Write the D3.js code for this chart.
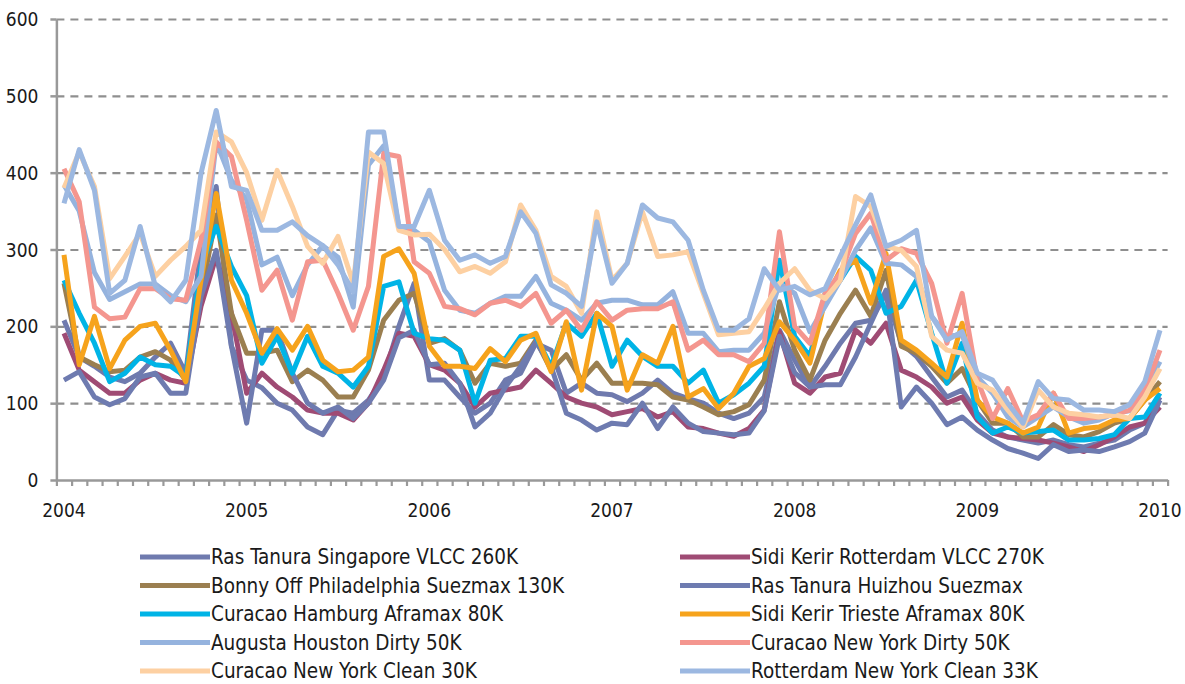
<!DOCTYPE html>
<html>
<head>
<meta charset="utf-8">
<script src="https://cdn.jsdelivr.net/npm/d3@7"></script>
<style>
  html, body { margin: 0; padding: 0; background: #fff; }
  svg { display: block; }
  .Axis text { font-family: "DejaVu Sans Condensed", "DejaVu Sans", sans-serif; font-size: 19px; fill: #1a1a1a; }
  .Legend text { font-family: "DejaVu Sans Condensed", "DejaVu Sans", sans-serif; font-size: 20.5px; fill: #1a1a1a; }
</style>
</head>
<body>
<svg id="chart" width="1185" height="684"></svg>
<script>
// Monthly categories, Jan 2004 .. Jan 2010 (73 points).
const months = d3.timeMonth.range(new Date(2004, 0, 1), new Date(2010, 1, 1));
const yearLabels = ["2004", "2005", "2006", "2007", "2008", "2009", "2010"];
const yTicks = [0, 100, 200, 300, 400, 500, 600];

const rasTanuraSingapore = [
  208, 160, 148, 134, 128, 139, 160, 178, 139, 304, 382, 174,
  130, 120, 100, 91, 69, 59, 91, 87, 104, 134, 200, 256,
  130, 130, 108, 87, 100, 130, 139, 178, 169, 113, 126, 113,
  111, 102, 113, 130, 113, 106, 100, 87, 80, 87, 108, 195,
  156, 121, 148, 178, 204, 208, 243, 178, 161, 134, 108, 117,
  87, 65, 56, 52, 48, 52, 46, 43, 48, 52, 65, 74,
  108];
const sidiKerirRotterdam = [
  191, 143, 128, 113, 113, 130, 139, 130, 126, 226, 291, 217,
  113, 139, 121, 108, 91, 87, 87, 78, 100, 143, 191, 187,
  150, 143, 126, 95, 113, 117, 121, 143, 126, 108, 100, 95,
  85, 89, 93, 82, 89, 69, 67, 61, 57, 67, 91, 193,
  126, 113, 134, 139, 195, 178, 204, 143, 134, 121, 100, 108,
  78, 61, 56, 54, 52, 48, 43, 37, 46, 56, 69, 74,
  95];
const bonnyPhiladelphia = [
  256, 160, 150, 141, 143, 160, 167, 156, 130, 240, 345, 217,
  165, 165, 169, 128, 143, 130, 108, 108, 143, 208, 234, 243,
  178, 184, 169, 126, 152, 148, 152, 182, 143, 163, 130, 152,
  126, 126, 126, 124, 108, 104, 95, 85, 89, 98, 130, 232,
  169, 130, 182, 217, 247, 213, 273, 174, 165, 148, 126, 145,
  104, 74, 74, 56, 56, 72, 59, 56, 63, 74, 80, 104,
  128];
const rasTanuraHuizhou = [
  130, 141, 108, 98, 106, 134, 139, 113, 113, 239, 299, 174,
  74, 195, 195, 139, 100, 87, 95, 80, 100, 130, 185, 195,
  150, 152, 126, 69, 87, 121, 148, 180, 148, 87, 78, 65,
  74, 72, 100, 67, 95, 74, 63, 61, 59, 61, 90, 187,
  140, 121, 124, 124, 160, 204, 247, 95, 121, 100, 72, 82,
  65, 52, 41, 35, 28, 46, 37, 39, 37, 43, 50, 61,
  104];
const curacaoHamburg = [
  260, 217, 178, 128, 139, 160, 150, 148, 134, 278, 330, 278,
  240, 152, 187, 139, 187, 148, 139, 121, 148, 252, 258, 191,
  184, 182, 169, 100, 156, 158, 187, 187, 148, 204, 187, 217,
  148, 182, 161, 148, 148, 126, 143, 100, 111, 126, 148, 286,
  187, 161, 243, 260, 291, 273, 217, 226, 260, 191, 126, 178,
  82, 61, 69, 61, 63, 65, 52, 52, 54, 59, 80, 82,
  113];
const sidiKerirTrieste = [
  293, 150, 213, 145, 182, 200, 204, 169, 128, 260, 373, 260,
  217, 165, 197, 169, 200, 156, 141, 143, 160, 291, 301, 269,
  174, 148, 148, 145, 171, 154, 182, 191, 141, 206, 117, 217,
  200, 117, 163, 152, 200, 108, 119, 93, 113, 148, 158, 206,
  182, 152, 234, 273, 286, 230, 295, 182, 169, 152, 134, 204,
  104, 82, 74, 61, 69, 113, 61, 67, 69, 78, 80, 104,
  119];
const augustaHouston = [
  384, 350, 270, 235, 245, 255, 255, 240, 232, 265, 440, 390,
  365, 280, 290, 240, 280, 305, 290, 225, 410, 435, 330, 325,
  310, 247, 221, 217, 230, 239, 239, 265, 230, 221, 208, 230,
  234, 234, 228, 228, 245, 191, 191, 167, 169, 169, 191, 256,
  243, 193, 226, 260, 299, 328, 282, 280, 265, 213, 187, 189,
  134, 113, 82, 69, 82, 95, 82, 74, 78, 87, 90, 117,
  154];
const curacaoNyDirty = [
  405, 362, 225, 210, 212, 249, 249, 236, 234, 312, 440, 421,
  338, 247, 273, 208, 284, 286, 243, 195, 252, 425, 421, 284,
  269, 226, 223, 215, 230, 234, 226, 243, 204, 221, 195, 232,
  208, 221, 223, 223, 232, 169, 182, 163, 163, 154, 178, 323,
  200, 178, 243, 269, 321, 347, 286, 301, 295, 256, 178, 243,
  130, 80, 119, 76, 85, 113, 80, 80, 82, 85, 91, 117,
  169];
const curacaoNyClean = [
  380, 427, 382, 262, 291, 321, 265, 286, 304, 325, 453, 440,
  400, 338, 403, 356, 304, 282, 317, 256, 427, 412, 325, 319,
  320, 300, 271, 278, 269, 284, 358, 325, 265, 252, 217, 349,
  260, 282, 349, 291, 293, 297, 243, 189, 191, 193, 223, 256,
  275, 247, 236, 260, 369, 356, 304, 299, 278, 187, 169, 165,
  126, 117, 91, 69, 117, 95, 87, 85, 82, 85, 80, 108,
  145];
const rotterdamNyClean = [
  360, 430, 377, 243, 260, 330, 252, 232, 260, 399, 481, 382,
  377, 325, 325, 336, 318, 305, 280, 245, 453, 453, 330, 330,
  377, 312, 286, 293, 282, 291, 349, 321, 254, 243, 226, 336,
  256, 282, 358, 341, 336, 312, 247, 195, 195, 210, 275, 247,
  252, 241, 249, 291, 332, 371, 304, 312, 325, 213, 182, 193,
  139, 130, 100, 74, 128, 106, 104, 91, 91, 89, 98, 128,
  195];

const series = [
  {name: "Ras Tanura Singapore VLCC 260K", color: "#6f7aae", values: rasTanuraSingapore},
  {name: "Sidi Kerir Rotterdam VLCC 270K", color: "#9f4b74", values: sidiKerirRotterdam},
  {name: "Bonny Off Philadelphia Suezmax 130K", color: "#9b7f50", values: bonnyPhiladelphia},
  {name: "Ras Tanura Huizhou Suezmax", color: "#6e7bb0", values: rasTanuraHuizhou},
  {name: "Curacao Hamburg Aframax 80K", color: "#00b4e6", values: curacaoHamburg},
  {name: "Sidi Kerir Trieste Aframax 80K", color: "#f6a31c", values: sidiKerirTrieste},
  {name: "Augusta Houston Dirty 50K", color: "#95b3de", values: augustaHouston},
  {name: "Curacao New York Dirty 50K", color: "#f4968f", values: curacaoNyDirty},
  {name: "Curacao New York Clean 30K", color: "#fdd0a2", values: curacaoNyClean},
  {name: "Rotterdam New York Clean 33K", color: "#9cb8e1", values: rotterdamNyClean},
];

const svg = d3.select("#chart");

// Plot frame: points sit in the middle of each monthly category.
const firstPoint = 64, lastPoint = 1160;
const yTop = 19, yBottom = 480;
const xScale = d3.scalePoint()
  .domain(d3.range(months.length))
  .range([firstPoint, lastPoint]);
const step = xScale.step();
const left = firstPoint - step / 2;
const right = lastPoint + step / 2;
const yScale = d3.scaleLinear()
  .domain([0, 600])
  .range([yBottom, yTop]);

// Dashed gridlines.
const gGrid = svg.append("g")
  .attr("transform", `translate(${left}, 0)`)
  .call(d3.axisRight(yScale)
    .tickValues(yTicks.filter((v) => v > 0))
    .tickSize(right - left)
    .tickFormat(""));
gGrid.select(".domain").remove();
gGrid.selectAll("line")
  .attr("stroke", "#8f8f8f")
  .attr("stroke-width", 2.2)
  .attr("stroke-dasharray", "8,6");

// Y axis.
const gYAxis = svg.append("g")
  .attr("class", "Axis")
  .attr("transform", `translate(${left}, 0)`)
  .call(d3.axisLeft(yScale)
    .tickValues(yTicks)
    .tickSizeInner(6)
    .tickSizeOuter(0)
    .tickPadding(12));
gYAxis.select(".domain").attr("stroke", "#999").attr("stroke-width", 2.5);
gYAxis.selectAll("line").attr("stroke", "#999").attr("stroke-width", 2.5);
gYAxis.selectAll("text").attr("dy", "0.35em");

// X axis: a tick at every month boundary, labels on each January.
const boundary = d3.scaleLinear().domain([0, months.length]).range([left, right]);
const gXAxis = svg.append("g")
  .attr("class", "Axis")
  .attr("transform", `translate(0, ${yBottom})`)
  .call(d3.axisBottom(boundary)
    .tickValues(d3.range(months.length + 1))
    .tickSizeInner(6)
    .tickSizeOuter(0)
    .tickFormat(""));
gXAxis.select(".domain").attr("stroke", "#999").attr("stroke-width", 2.5);
gXAxis.selectAll("line").attr("stroke", "#999").attr("stroke-width", 2.2);
gXAxis.selectAll(".YearLabel")
  .data(yearLabels)
  .join("text")
  .attr("class", "YearLabel")
  .attr("x", (d, i) => xScale(i * 12))
  .attr("y", 37)
  .attr("text-anchor", "middle")
  .text((d) => d);

// Lines, first series at the bottom.
const line = d3.line()
  .x((v, i) => xScale(i))
  .y((v) => yScale(v));
svg.append("g")
  .selectAll("path")
  .data(series)
  .join("path")
  .attr("fill", "none")
  .attr("stroke", (s) => s.color)
  .attr("stroke-width", 5)
  .attr("stroke-linejoin", "round")
  .attr("d", (s) => line(s.values));

// Legend, two columns.
const gLegend = svg.append("g").attr("class", "Legend");
const legendItem = gLegend.selectAll("g")
  .data(series)
  .join("g")
  .attr("transform", (s, i) => `translate(${i % 2 ? 680 : 140}, ${557 + Math.floor(i / 2) * 28.5})`);
legendItem.append("line")
  .attr("x1", 0)
  .attr("x2", 70)
  .attr("stroke", (s) => s.color)
  .attr("stroke-width", 5);
legendItem.append("text")
  .attr("x", 71)
  .attr("dy", "0.36em")
  .text((s) => s.name);
</script>
</body>
</html>
